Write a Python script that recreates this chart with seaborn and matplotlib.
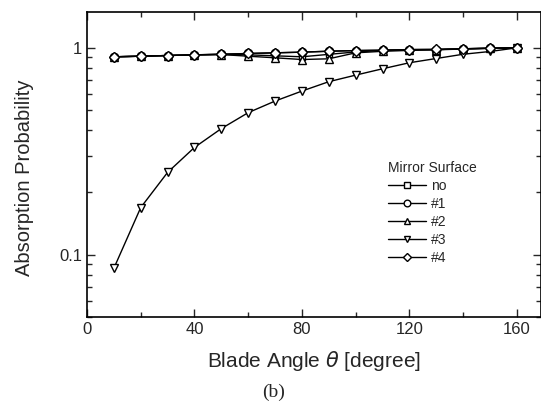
import matplotlib
matplotlib.use("Agg")
import matplotlib.pyplot as plt
import seaborn as sns
import pandas as pd
from matplotlib.ticker import FixedLocator, NullFormatter, MultipleLocator

angles = [10, 20, 30, 40, 50, 60, 70, 80, 90, 100, 110, 120, 130, 140, 150, 160]
series_names = ["no", "#1", "#2", "#3", "#4"]
vals_no = [0.905, 0.911, 0.918, 0.925, 0.929, 0.925, 0.915, 0.905, 0.93, 0.955, 0.972, 0.979, 0.981, 0.989, 0.995, 1.0]
vals_1 = [0.905, 0.911, 0.918, 0.925, 0.931, 0.939, 0.946, 0.953, 0.963, 0.970, 0.974, 0.981, 0.981, 0.989, 0.996, 1.0]
vals_2 = [0.905, 0.911, 0.918, 0.925, 0.928, 0.911, 0.895, 0.878, 0.885, 0.946, 0.962, 0.972, 0.978, 0.987, 0.994, 1.0]
vals_3 = [0.086, 0.169, 0.250, 0.330, 0.407, 0.486, 0.553, 0.618, 0.686, 0.738, 0.792, 0.847, 0.888, 0.931, 0.960, 1.0]
vals_4 = [0.905, 0.911, 0.918, 0.925, 0.931, 0.939, 0.946, 0.953, 0.963, 0.970, 0.974, 0.981, 0.983, 0.990, 0.996, 1.0]
x_ticks = [0, 40, 80, 120, 160]
y_ticks = [0.1, 1]
y_tick_labels = ["0.1", "1"]

rows = []
for name, vals in zip(series_names, [vals_no, vals_1, vals_2, vals_3, vals_4]):
    for a, v in zip(angles, vals):
        rows.append({"angle": a, "prob": v, "Mirror Surface": name})
df = pd.DataFrame(rows)

sns.set_style("ticks")
plt.rcParams["font.family"] = ["Liberation Sans", "DejaVu Sans"]

fig = plt.figure(figsize=(5.41, 4.09), dpi=100)
ax = fig.add_axes([87/541, 1-317/409, (541-87)/541, (317-12)/409])

markers = {"no": "s", "#1": "o", "#2": "^", "#3": "v", "#4": "D"}
sizes = {"no": 5, "#1": 6, "#2": 6, "#3": 6, "#4": 5}
for name in series_names:
    sub = df[df["Mirror Surface"] == name]
    sns.lineplot(data=sub, x="angle", y="prob", ax=ax, color="black", lw=1.0,
                 marker=markers[name], markersize=sizes[name], markerfacecolor="white",
                 markeredgecolor="black", markeredgewidth=1.0, label=name)

ax.set_yscale("log")
ax.set_xlim(0, 169)
ax.set_ylim(0.05, 1.49)
ax.xaxis.set_major_locator(FixedLocator(x_ticks))
ax.xaxis.set_minor_locator(MultipleLocator(20))
ax.yaxis.set_major_locator(FixedLocator(y_ticks))
ax.set_yticklabels(y_tick_labels)
ax.yaxis.set_minor_formatter(NullFormatter())
ax.tick_params(which="both", direction="in", top=True, right=True, labelsize=12, width=1)
ax.tick_params(which="major", length=6)
ax.tick_params(which="minor", length=3.5)
for s in ax.spines.values():
    s.set_linewidth(1.2)
    s.set_color("black")

ax.set_xlabel("Blade Angle $\\theta$ [degree]", fontsize=15, labelpad=9)
ax.set_ylabel("Absorption Probability", fontsize=14.5)
ax.yaxis.set_label_coords((34-87)/454, (317-178)/305)

leg = ax.legend(title="Mirror Surface", frameon=False, fontsize=10, title_fontsize=10,
                loc="upper left", bbox_to_anchor=(375/541, 1-148/409), bbox_transform=fig.transFigure,
                handlelength=2.8, handletextpad=0.3, labelspacing=0.3, alignment="left",
                markerscale=0.8)

fig.text(274/541, 1-392/409, "(b)", fontsize=14, family="Liberation Serif", ha="center", va="center")

fig.savefig("out.png", dpi=100)
